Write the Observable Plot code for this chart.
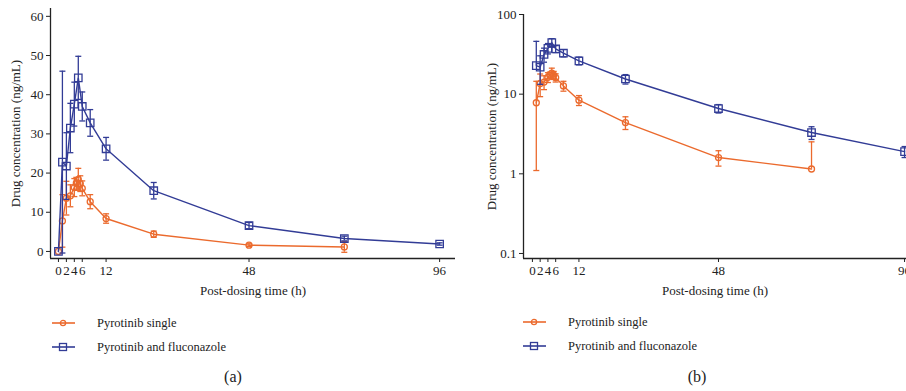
<!DOCTYPE html>
<html>
<head>
<meta charset="utf-8">
<script src="https://cdn.jsdelivr.net/npm/d3@7"></script>
<script src="https://cdn.jsdelivr.net/npm/@observablehq/plot@0.6"></script>
<style>
  html, body { margin: 0; padding: 0; background: #fff; }
  #wrap { position: relative; width: 906px; height: 391px; overflow: hidden; font-family: "Liberation Serif", "DejaVu Serif", serif; color: #222; }
  .panel { position: absolute; top: 0; }
  .legend { position: absolute; font-size: 12.5px; }
  .legend .row { display: flex; align-items: center; height: 24px; }
  .legend svg { margin-right: 22px; }
  .cap { position: absolute; top: 368px; font-size: 16px; transform: translateX(-50%); }
</style>
</head>
<body>
<div id="wrap">
  <div class="panel" id="pa" style="left:0px"></div>
  <div class="panel" id="pb" style="left:460px"></div>
  <div class="legend" id="la" style="left:52px; top:311px"></div>
  <div class="legend" id="lb" style="left:523px; top:310px"></div>
  <div class="cap" style="left:233px">(a)</div>
  <div class="cap" style="left:697px">(b)</div>
</div>
<script>
// ---- data ----
const seriesNames = ["Pyrotinib single", "Pyrotinib and fluconazole"];
const seriesColors = ["#eb6a2d", "#323c96"];

const timesSingle = [0, 1, 2, 3, 4, 4.5, 5, 5.5, 6, 8, 12, 24, 48, 72];
const meanSingle  = [0, 7.8, 13.6, 14.2, 16.3, 17.4, 18.4, 17.3, 16.1, 12.7, 8.4, 4.4, 1.6, 1.15];
const sdSingle    = [0, 6.7, 4.3, 2.8, 2.3, 1.5, 2.8, 2.0, 1.9, 1.8, 1.2, 0.8, 0.35, 1.37];

const timesFlu = [0, 1, 2, 3, 4, 5, 6, 8, 12, 24, 48, 72, 96];
const meanFlu  = [0, 22.8, 21.8, 31.5, 37.6, 44.3, 37.0, 32.8, 26.2, 15.5, 6.6, 3.3, 1.9];
const sdFlu    = [0, 23.2, 8.5, 6.3, 5.6, 5.5, 3.7, 3.4, 2.9, 2.1, 0.8, 0.6, 0.3];

const xTicks = [0, 2, 4, 6, 12, 48, 96];
const yTicksLinear = [0, 10, 20, 30, 40, 50, 60];
const yTicksLog = [0.1, 1, 10, 100];

// ---- build table ----
function rows(times, means, sds, s) {
  return times.map((t, i) => ({t, v: means[i], sd: sds[i], s}));
}
const single = rows(timesSingle, meanSingle, sdSingle, 0);
const flu = rows(timesFlu, meanFlu, sdFlu, 1);

const capSymbol = {
  draw(context, size) {
    const r = Math.sqrt(size / Math.PI);
    context.moveTo(-r, 0);
    context.lineTo(r, 0);
  }
};

function seriesMarks(data, s, log) {
  const color = seriesColors[s];
  const d = log ? data.filter(r => r.v > 0) : data;
  const lower = log ? d.filter(r => r.v - r.sd > 0) : d;
  const upper = d.filter(r => r.sd > 0);
  const lowerE = lower.filter(r => r.sd > 0);
  return [
    Plot.ruleX(upper, {x: "t", y1: "v", y2: r => r.v + r.sd, stroke: color, strokeWidth: 1.3}),
    Plot.ruleX(lowerE, {x: "t", y1: r => r.v - r.sd, y2: "v", stroke: color, strokeWidth: 1.3}),
    Plot.dot(upper, {x: "t", y: r => r.v + r.sd, symbol: capSymbol, r: 3, stroke: color, strokeWidth: 1.3}),
    Plot.dot(lowerE, {x: "t", y: r => r.v - r.sd, symbol: capSymbol, r: 3, stroke: color, strokeWidth: 1.3}),
    Plot.line(d, {x: "t", y: "v", stroke: color, strokeWidth: 1.4}),
    Plot.dot(d, {x: "t", y: "v", symbol: s === 0 ? "circle" : "square", r: s === 0 ? 3 : 4.2,
      stroke: color, fill: "none", strokeWidth: 1.3})
  ];
}

const axisStyle = {fontFamily: "'Liberation Serif', 'DejaVu Serif', serif", fontSize: "13px", color: "#222", background: "transparent", overflow: "visible"};

// Panel (a): linear
const xDomA = [-2, 100], yDomA = [-1.8, 62];
const chartA = Plot.plot({
  width: 460, height: 300,
  marginLeft: 50, marginRight: 5, marginTop: 8, marginBottom: 42,
  style: axisStyle,
  x: {domain: xDomA, ticks: xTicks, tickSize: 4, tickPadding: 3, label: "Post-dosing time (h)", labelAnchor: "center", labelOffset: 36, labelArrow: "none"},
  y: {domain: yDomA, ticks: yTicksLinear, tickSize: 4, tickPadding: 3, label: "Drug concentration (ng/mL)", labelAnchor: "center", labelOffset: 40, labelArrow: "none"},
  marks: [
    Plot.ruleX([xDomA[0]], {stroke: "#222", strokeWidth: 1.3}),
    Plot.ruleY([yDomA[0]], {stroke: "#222", strokeWidth: 1.3}),
    ...seriesMarks(single, 0, false),
    ...seriesMarks(flu, 1, false)
  ]
});
document.getElementById("pa").append(chartA);

// Panel (b): log
const xDomB = [-2.3, 96.5], yDomB = [0.0865, 100];
const chartB = Plot.plot({
  width: 446, height: 300,
  marginLeft: 63, marginRight: 0, marginTop: 14, marginBottom: 42,
  style: axisStyle,
  x: {domain: xDomB, ticks: xTicks, tickSize: 4, tickPadding: 3, label: "Post-dosing time (h)", labelAnchor: "center", labelOffset: 36, labelArrow: "none"},
  y: {type: "log", domain: yDomB, ticks: yTicksLog, tickFormat: d3.format("~g"), tickSize: 4, tickPadding: 3, label: "Drug concentration (ng/mL)", labelAnchor: "center", labelOffset: 37, labelArrow: "none"},
  marks: [
    Plot.ruleX([xDomB[0]], {stroke: "#222", strokeWidth: 1.3}),
    Plot.ruleY([yDomB[0]], {stroke: "#222", strokeWidth: 1.3}),
    ...seriesMarks(single, 0, true),
    ...seriesMarks(flu, 1, true)
  ]
});
document.getElementById("pb").append(chartB);

// Legends
function legend(el) {
  seriesNames.forEach((name, s) => {
    const row = document.createElement("div");
    row.className = "row";
    const c = seriesColors[s];
    const sym = s === 0
      ? `<circle cx="11" cy="6" r="2.6" fill="none" stroke="${c}" stroke-width="1.3"/>`
      : `<rect x="7.5" y="2.5" width="7" height="7" fill="none" stroke="${c}" stroke-width="1.3"/>`;
    row.innerHTML = `<svg width="23" height="12"><line x1="0" x2="23" y1="6" y2="6" stroke="${c}" stroke-width="1.6"/>${sym}</svg><span>${name}</span>`;
    el.append(row);
  });
}
legend(document.getElementById("la"));
legend(document.getElementById("lb"));
</script>
</body>
</html>
